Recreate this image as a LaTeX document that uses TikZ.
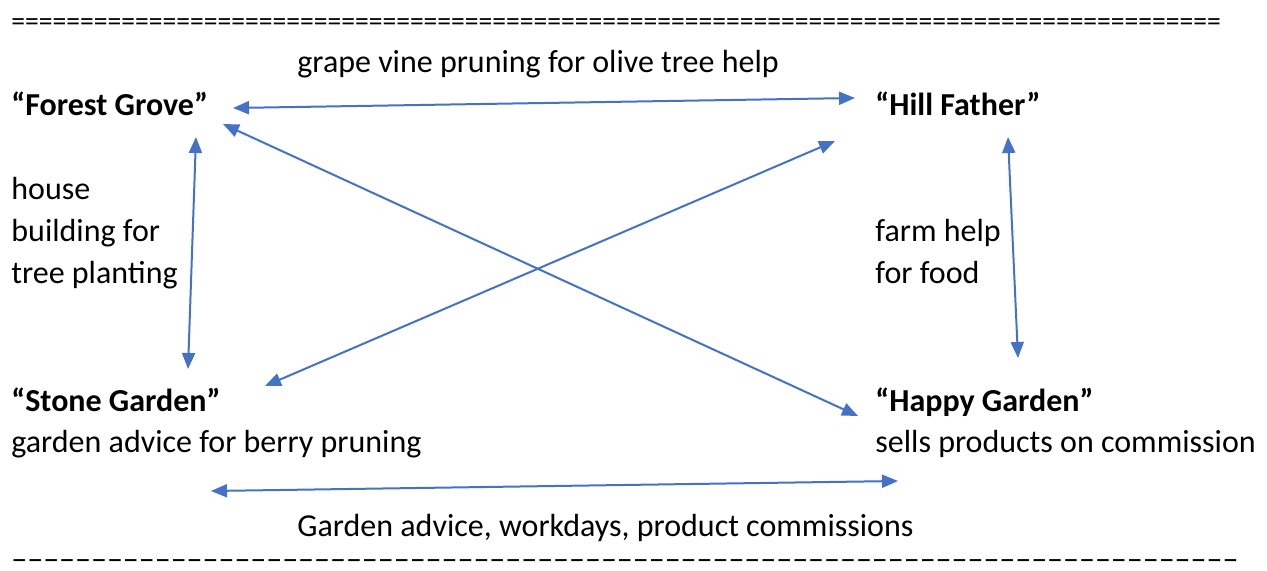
\documentclass[tikz,border=0pt]{standalone}
\usepackage{fontspec}
\setmainfont{Carlito}
\usetikzlibrary{positioning, arrows.meta}
\definecolor{linkblue}{HTML}{4472C4}
\newcommand{\bodysize}{\fontsize{16pt}{21pt}\selectfont}
\tikzstyle{farm}=[%
      inner sep=0pt, anchor=base west, font=\bodysize\bfseries
]
\tikzstyle{note}=[%
      inner sep=0pt, anchor=base west, align=left, font=\bodysize
]
\tikzstyle{sep}=[%
      inner sep=0pt, anchor=base west
]
\tikzstyle{link}=[%
      draw=linkblue, line width=1pt,
      {Triangle[length=8pt,width=6.5pt]}-{Triangle[length=8pt,width=6.5pt]}
]

\begin{document}
\begin{tikzpicture}[x=0.5pt, y=-0.5pt]
    \useasboundingbox (0,0) rectangle (1267,571);
    % separator lines
    \node[sep, font=\fontsize{13.8pt}{16pt}\selectfont] (toprule) at (11,31)
      {========================================================================================};
    \node[sep, font=\bodysize] (botrule) at (11,569)
      {–––––––––––––––––––––––––––––––––––––––––––––––––––––––––––––––––––––––––––––};
    % farms
    \node[farm] (fg) at (11,116) {“Forest Grove”};
    \node[farm] (hf) at (875,116) {“Hill Father”};
    \node[farm] (sg) at (11,411) {“Stone Garden”};
    \node[farm] (hg) at (875,411) {“Happy Garden”};
    \node[note] (sgnote) at (11,452) {garden advice for berry pruning};
    \node[note] (hgnote) at (875,452) {sells products on commission};
    % exchanges (base = last line)
    \node[note] (vine) at (297,73) {grape vine pruning for olive tree help};
    \node[note] (house) at (11,284) {house\\building for\\tree planting};
    \node[note] (food) at (875,284) {farm help\\for food};
    \node[note] (advice) at (297,536) {Garden advice, workdays, product commissions};
    % arrow ends
    \coordinate (fg-e) at (233,108);
    \coordinate (hf-w) at (855,98);
    \coordinate (fg-s) at (196,137);
    \coordinate (sg-n) at (188,369);
    \coordinate (fg-se) at (223,124);
    \coordinate (hg-nw) at (858,416);
    \coordinate (hf-sw) at (835,141);
    \coordinate (sg-ne) at (265,386);
    \coordinate (hf-s) at (1008,137);
    \coordinate (hg-n) at (1018,358);
    \coordinate (sg-b) at (211,491);
    \coordinate (hg-b) at (898,481);
    \draw[link] (fg-e) -- (hf-w);
    \draw[link] (fg-s) -- (sg-n);
    \draw[link] (fg-se) -- (hg-nw);
    \draw[link] (hf-sw) -- (sg-ne);
    \draw[link] (hf-s) -- (hg-n);
    \draw[link] (sg-b) -- (hg-b);
\end{tikzpicture}
\end{document}
